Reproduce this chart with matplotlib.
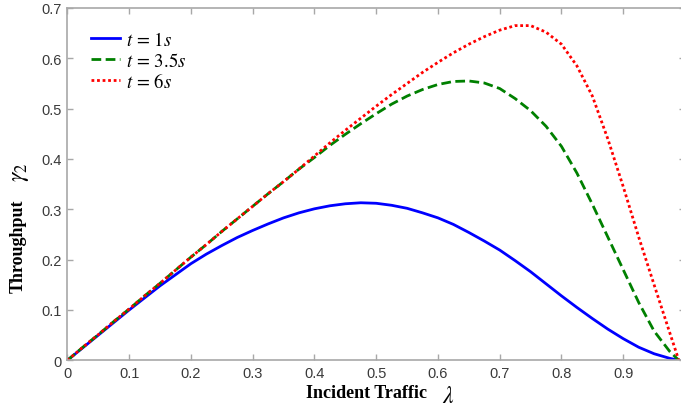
import matplotlib
matplotlib.use("Agg")
import matplotlib.pyplot as plt

x = [0, .025, .05, .075, .1, .125, .15, .175, .2, .225, .25, .275, .3, .325, .35,
     .375, .4, .425, .45, .475, .5, .525, .55, .575, .6, .625, .65, .675, .7, .725,
     .75, .775, .8, .825, .85, .875, .9, .925, .95, .975, .99]

t1 = [0, .025, .05, .075, .1, .124, .148, .17, .192, .211, .228, .244, .258, .271, .283,
      .293, .301, .307, .311, .313, .312, .308, .302, .293, .283, .27, .254, .237, .219, .198,
      .176, .152, .128, .105, .083, .062, .043, .026, .013, .004, 0]

t35 = [0, .026, .051, .077, .102, .128, .153, .179, .205, .23, .256, .281, .306, .331, .355,
       .38, .403, .427, .449, .47, .49, .509, .525, .538, .548, .554, .555, .551, .54, .52,
       .496, .465, .425, .372, .31, .245, .18, .115, .058, .018, 0]

t6 = [0, .026, .051, .077, .102, .128, .153, .179, .205, .23, .256, .281, .306, .331, .355,
      .38, .406, .432, .457, .481, .505, .528, .55, .572, .592, .611, .628, .643, .656, .665,
      .665, .652, .628, .585, .525, .44, .345, .245, .15, .056, 0]

labels = ["$t\\,=\\,1s$", "$t\\,=\\,3.5s$", "$t\\,=\\,6s$"]
xticks = [0, .1, .2, .3, .4, .5, .6, .7, .8, .9]
xticklabels = ["0", "0.1", "0.2", "0.3", "0.4", "0.5", "0.6", "0.7", "0.8", "0.9"]
yticks = [0, .1, .2, .3, .4, .5, .6, .7]
yticklabels = ["0", "0.1", "0.2", "0.3", "0.4", "0.5", "0.6", "0.7"]

plt.rcParams["mathtext.fontset"] = "stix"

fig = plt.figure(figsize=(6.81, 4.10), dpi=100)
W, H = 681, 410
left, right, bottom, top = 67.4, 685, 361.3, 9
ax = fig.add_axes([left / W, (H - bottom) / H, (right - left) / W, (bottom - top) / H])

ax.plot(x, t1, color="#0000ff", lw=2, ls="-", label=labels[0])
ax.plot(x, t35, color="#008000", lw=2, ls=(0, (3.5, 1.6)), label=labels[1])
ax.plot(x, t6, color="#ff0000", lw=2, ls=(0, (1, 1)), label=labels[2])

ax.set_xlim(0, 1)
ax.set_ylim(0, 0.7)
ax.set_xticks(xticks)
ax.set_xticklabels(xticklabels)
ax.set_yticks(yticks)
ax.set_yticklabels(yticklabels)

for s in ax.spines.values():
    s.set_color("#a8a8a8")
    s.set_linewidth(1.2)
ax.tick_params(direction="in", top=True, right=True, length=4, width=1,
               color="#a8a8a8", labelcolor="#3a3a3a", labelsize=10.5,
               labelfontfamily="Liberation Sans", pad=4)


def ftext(px, py, s, **kw):
    fig.text(px / W, 1 - py / H, s, ha="center", va="center", **kw)


# x label pieces
ftext(367, 394, "Incident Traffic", fontfamily="Liberation Serif",
      fontweight="bold", fontsize=13)
ftext(448, 396, r"$\lambda$", fontsize=17)
# y label pieces
ftext(18, 246, "Throughput", fontfamily="Liberation Serif",
      fontweight="bold", fontsize=13, rotation=90)
ftext(19, 172, r"$\gamma_2$", fontsize=17, rotation=90)

leg = ax.legend(loc="upper left", frameon=False, fontsize=13.5,
                handlelength=1.55, handletextpad=0.3, labelspacing=0.1,
                borderpad=0, borderaxespad=0,
                bbox_to_anchor=(23.6 / 617.6, 1 - 22 / 352.3))

fig.savefig("out.png", dpi=100)
